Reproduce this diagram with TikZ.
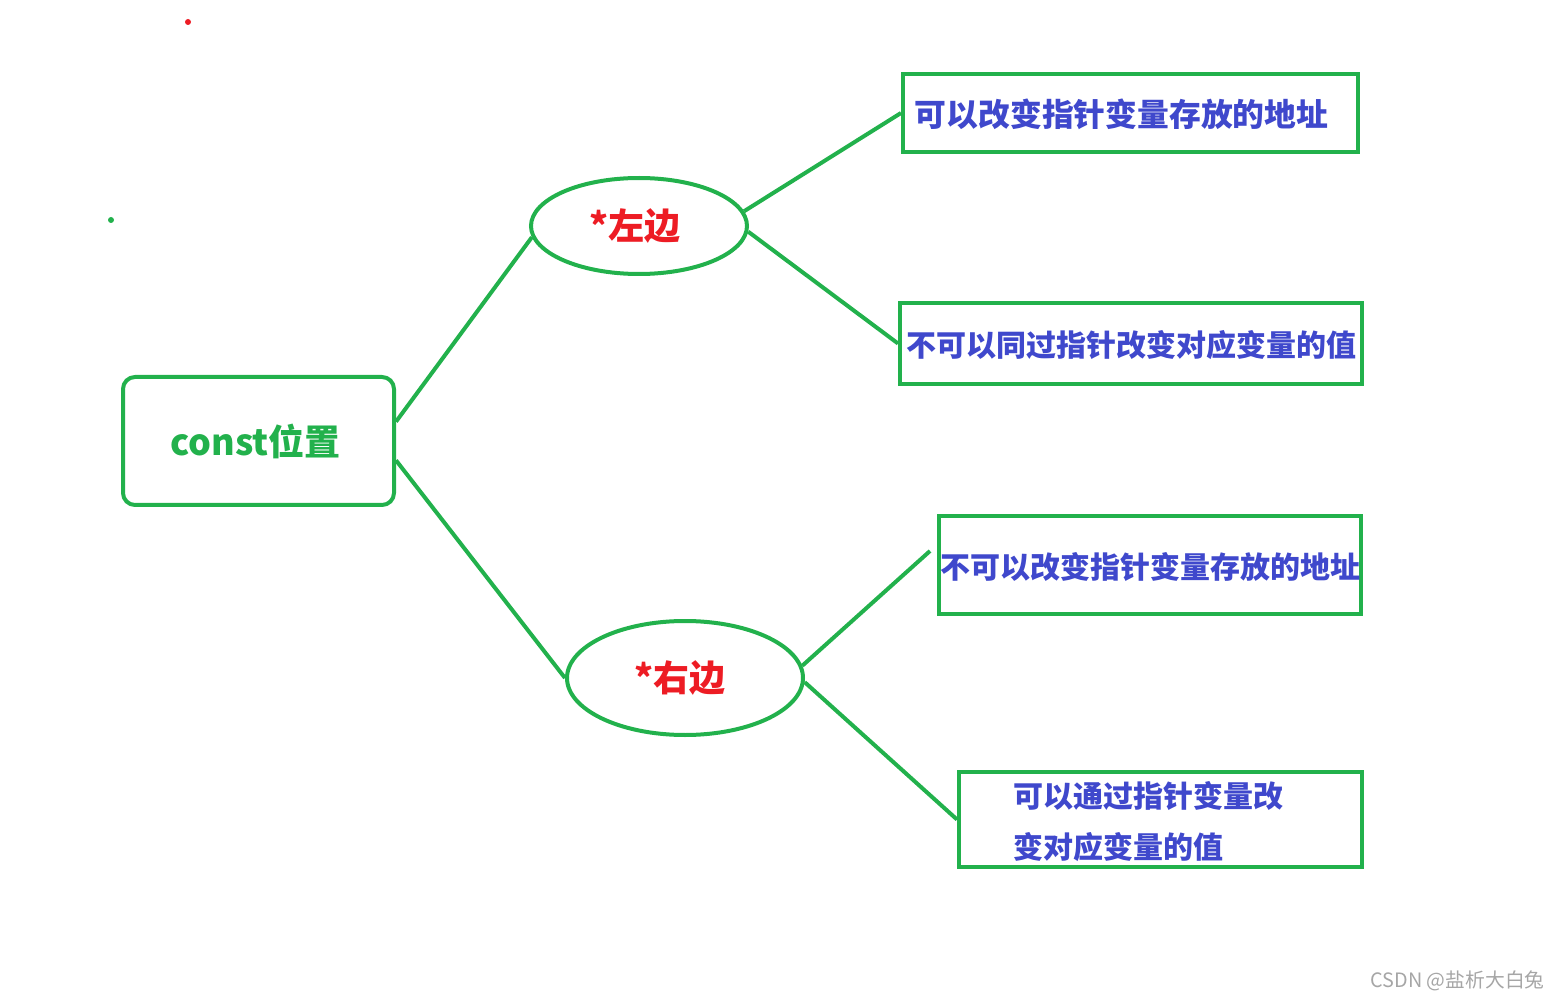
\documentclass[tikz,border=0pt]{standalone}
\usepackage{fontspec}
\setmainfont{Noto Sans CJK SC}
\usetikzlibrary{shapes.geometric}
\definecolor{pgreen}{RGB}{34,177,76}
\definecolor{pred}{RGB}{237,28,36}
\definecolor{pblue}{RGB}{63,72,204}
\tikzset{
  link/.style={draw=pgreen, line width=2pt},
  mainbox/.style={draw=pgreen, line width=2pt, rounded corners=6pt, inner sep=0pt,
    text=pgreen, font=\fontsize{18}{20}\selectfont\bfseries},
  side/.style={ellipse, draw=pgreen, line width=2pt, inner sep=0pt,
    text=pred, font=\fontsize{18}{20}\selectfont\bfseries},
  leaf/.style={draw=pgreen, line width=2pt, inner sep=0pt, text depth=0pt,
    text=pblue, font=\fontsize{15}{25.5}\selectfont\bfseries}
}
\begin{document}
\begin{tikzpicture}[x=0.5pt, y=-0.5pt]
    % Marco
    \useasboundingbox (0,0) rectangle (1560,1000);
    % Puntos sueltos
    \fill[pred] (188,22) circle (1.5pt);
    \fill[pgreen] (111,220) circle (1.5pt);
    % Nodo principal
    \node[mainbox, minimum width=135.5pt, minimum height=64pt] (pos) at (258.5,441) {const位置\hspace*{3pt}};
    % Elipses
    \node[side, minimum width=108pt, minimum height=48pt] (izq) at (639,226) {*左边\hspace*{4pt}};
    \node[side, minimum width=118pt, minimum height=57pt] (der) at (685,678) {*右边\hspace*{5pt}};
    % Cajas
    \node[leaf, minimum width=227.5pt, minimum height=39pt, font=\fontsize{15.9}{20}\selectfont\bfseries] (b1) at (1130.5,113) {可以改变指针变量存放的地址\hspace*{9pt}};
    \node[leaf, minimum width=231pt, minimum height=40.5pt] (b2) at (1131,343.5) {不可以同过指针改变对应变量的值};
    \node[leaf, minimum width=211pt, minimum height=49pt] (b3) at (1150,565) {不可以改变指针变量存放的地址};
    \node[leaf, minimum width=201.5pt, minimum height=47.5pt, align=left] (b4) at (1160.5,819.5) {可以通过指针变量改\hspace*{0.8em}\\变对应变量的值};
    \coordinate (b3in) at (930,551);
    % Conectores
    \draw[link] (pos.8) -- (izq.186);
    \draw[link] (pos.-8) -- (der.west);
    \draw[link] (izq.8) -- (b1.west);
    \draw[link] (izq.-3) -- (b2.west);
    \draw[link] (der.6) -- (b3in);
    \draw[link] (der.-2) -- (b4.west);
    % Marca de agua
    \node[anchor=east, inner sep=0pt, text=gray!70, font=\fontsize{9.9}{12}\selectfont] (wm) at (1545,981) {CSDN @盐析大白兔};
\end{tikzpicture}
\end{document}
